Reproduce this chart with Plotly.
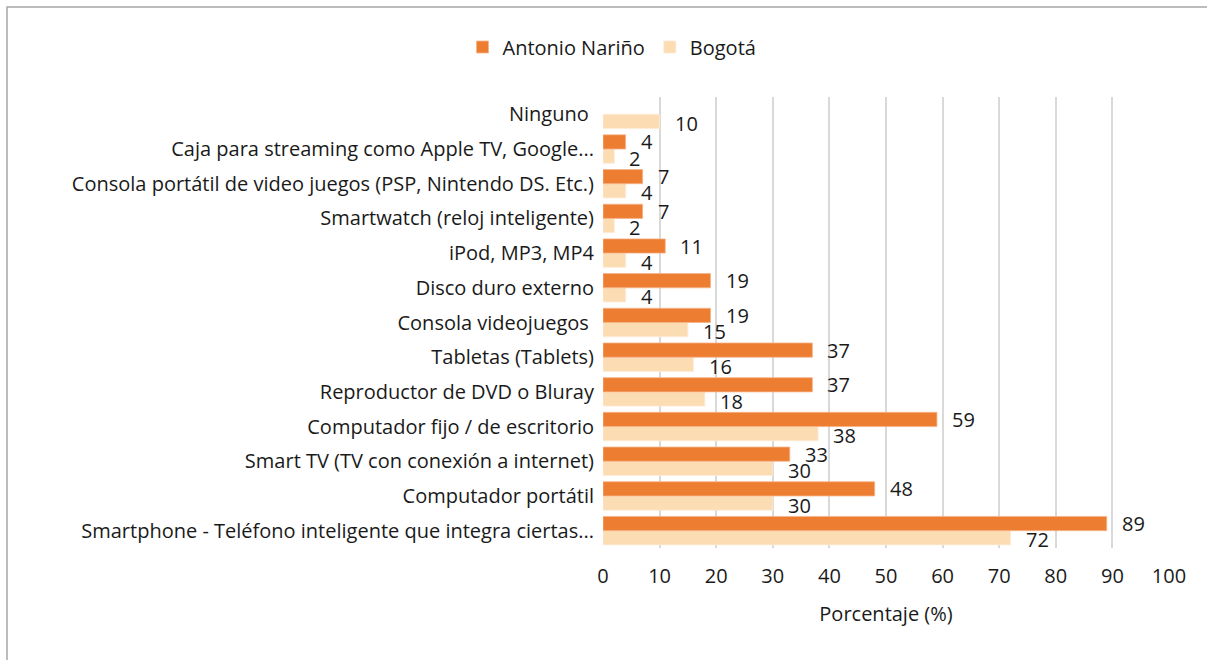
import plotly.graph_objects as go

categories = [
    "Smartphone - Teléfono inteligente que integra ciertas...",
    "Computador portátil",
    "Smart TV (TV con conexión a internet)",
    "Computador fijo / de escritorio",
    "Reproductor de DVD o Bluray",
    "Tabletas (Tablets)",
    "Consola videojuegos\u00a0",
    "Disco duro externo",
    "iPod, MP3, MP4",
    "Smartwatch (reloj inteligente)",
    "Consola portátil de video juegos (PSP, Nintendo DS. Etc.)",
    "Caja para streaming como Apple TV, Google...",
    "Ninguno\u00a0",
]
antonio_narino = [89, 48, 33, 59, 37, 37, 19, 19, 11, 7, 7, 4, None]
bogota = [72, 30, 30, 38, 18, 16, 15, 4, 4, 2, 4, 2, 10]
x_ticks = [0, 10, 20, 30, 40, 50, 60, 70, 80, 90, 100]

series_names = ["Antonio Nariño", "Bogotá"]
colors = ["#ED7D31", "#FCDDB3"]

FONT = "Open Sans"
TXT = "#1a1a1a"
FS = 20

idx = list(range(len(categories)))

fig = go.Figure()
# Bogotá first so that it sits below Antonio Nariño inside each group
fig.add_trace(go.Bar(y=idx, x=bogota, orientation="h", name=series_names[1], legendrank=2,
                     marker=dict(color=colors[1], line=dict(color="#FEEBD5", width=0.8))))
fig.add_trace(go.Bar(y=idx, x=antonio_narino, orientation="h", name=series_names[0], legendrank=1,
                     marker=dict(color=colors[0], line=dict(color="#F6B48A", width=0.8))))

off = 0.205
annotations = []
for i, v in enumerate(antonio_narino):
    if v is not None:
        annotations.append(dict(x=v, y=i + off, xref="x", yref="y", text=str(v), showarrow=False,
                                xanchor="left", yanchor="middle", xshift=13, yshift=0,
                                font=dict(family=FONT, size=FS, color=TXT)))
for i, v in enumerate(bogota):
    if v is not None:
        annotations.append(dict(x=v, y=i - off, xref="x", yref="y", text=str(v), showarrow=False,
                                xanchor="left", yanchor="middle", xshift=13, yshift=-2,
                                font=dict(family=FONT, size=FS, color=TXT)))

# plot area in pixels
W, H = 1207, 660
L, R, T, B = 603, 1169, 97, 548
pw, ph = R - L, B - T
def px(xp):
    return (xp - L) / pw
def py(yp):
    return (B - yp) / ph

fig.add_shape(type="rect", xref="paper", yref="paper",
              x0=px(7), x1=px(1215), y0=py(680), y1=py(7),
              line=dict(color="#A6A6A6", width=1.5), fillcolor="rgba(0,0,0,0)", layer="below")

fig.update_layout(
    width=W, height=H,
    margin=dict(l=L, r=W - R, t=T, b=H - B),
    paper_bgcolor="white", plot_bgcolor="white",
    barmode="group", bargap=0.18, bargroupgap=0,
    font=dict(family=FONT, size=FS, color=TXT),
    legend=dict(orientation="h", x=px(612), xanchor="center", y=py(47), yanchor="middle",
                font=dict(family=FONT, size=FS, color=TXT), itemwidth=30),
    annotations=annotations,
    showlegend=True,
)
fig.update_xaxes(range=[0, 100], tickvals=x_ticks, showgrid=True, gridcolor="#D9D9D9", gridwidth=1.5,
                 zeroline=False, showline=False, ticks="", ticklabelstandoff=14,
                 tickfont=dict(family=FONT, size=FS, color=TXT),
                 title=dict(text="Porcentaje (%)", font=dict(family=FONT, size=FS, color=TXT), standoff=18))
fig.update_yaxes(range=[-0.5, len(categories) - 0.5], tickvals=idx, ticktext=categories,
                 showgrid=False, zeroline=False, showline=False, ticks="", ticklabelstandoff=8,
                 tickfont=dict(family=FONT, size=FS, color=TXT))

fig.write_html("out.html", config={"displayModeBar": False},
               post_script="document.body.style.margin='0';")
